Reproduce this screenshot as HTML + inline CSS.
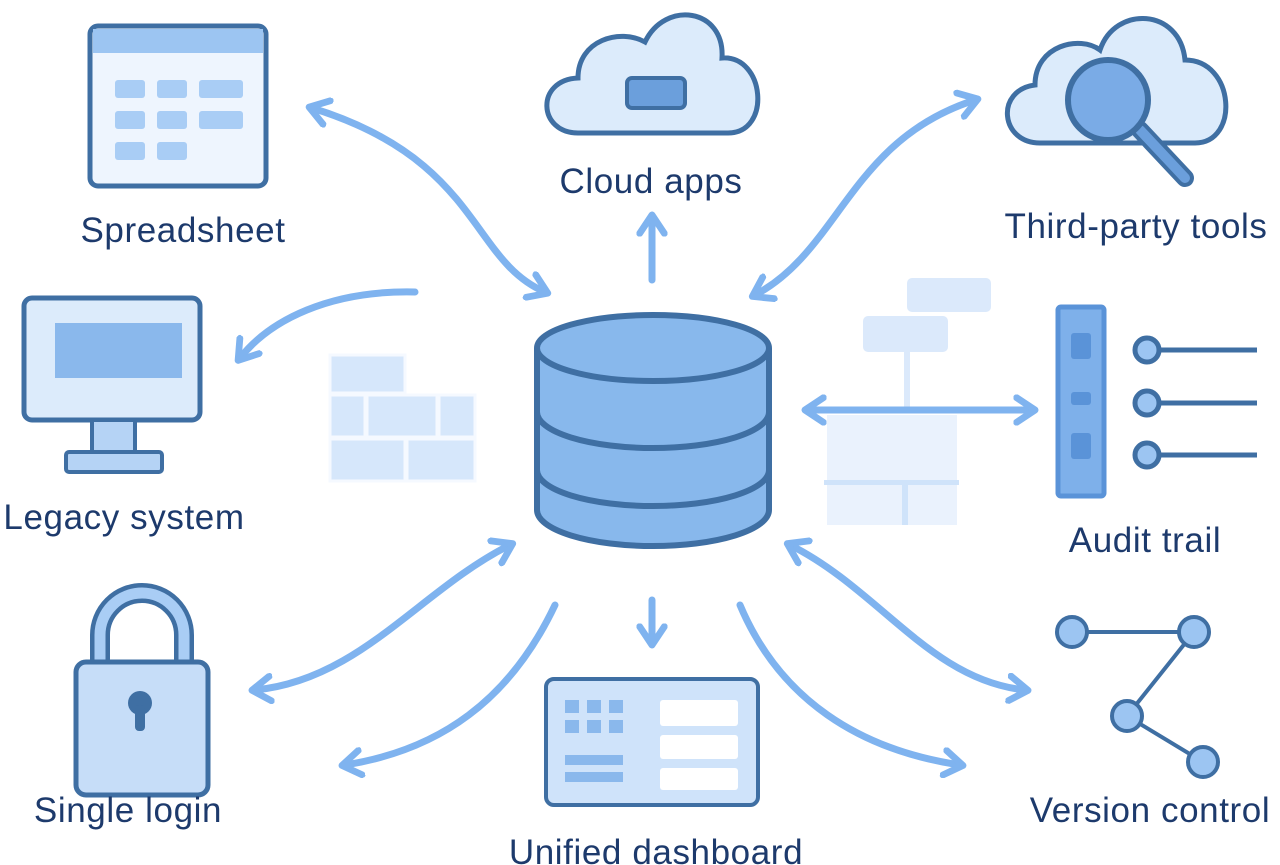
<!DOCTYPE html>
<html><head><meta charset="utf-8"><style>html,body{margin:0;padding:0;background:#fff}svg{display:block}text{font-family:"Liberation Sans",sans-serif;fill:#1d3a6c;font-size:35px;letter-spacing:0.6px;text-anchor:middle}</style></head><body>
<svg width="1280" height="865" viewBox="0 0 1280 865" xmlns="http://www.w3.org/2000/svg">
<defs>
<marker id="ah" viewBox="0 0 10 10" refX="6" refY="5" markerWidth="4.4" markerHeight="4.4" orient="auto-start-reverse"><path d="M1,1 L7,5 L1,9" fill="none" stroke="#7fb3ef" stroke-width="2.2" stroke-linecap="round" stroke-linejoin="round"/></marker>
</defs>
<!-- faint wall -->
<g fill="#d6e7fb" stroke="#f5f9ff" stroke-width="3">
<rect x="330" y="355" width="75" height="38"/><rect x="330" y="395" width="35" height="42"/><rect x="367" y="395" width="70" height="42"/><rect x="439" y="395" width="36" height="42"/><rect x="330" y="439" width="75" height="42"/><rect x="407" y="439" width="68" height="42"/>
</g>
<!-- faint org chart -->
<g fill="#dbe9fb">
<rect x="907" y="278" width="84" height="34" rx="5"/><rect x="863" y="316" width="85" height="36" rx="5"/>
<rect x="904" y="350" width="6" height="60"/>
<rect x="827" y="415" width="130" height="110" fill="#eaf2fd"/>
<rect x="824" y="480" width="135" height="5" fill="#cfe3fa"/><rect x="902" y="485" width="6" height="40" fill="#cfe3fa"/>
</g>
<!-- arrows -->
<g fill="none" stroke="#7fb3ef" stroke-width="7" stroke-linecap="round" marker-end="url(#ah)">
<path d="M545,292 C470,260 480,160 312,108" marker-start="url(#ah)"/>
<path d="M652,280 L652,218"/>
<path d="M755,295 C840,250 850,140 975,100" marker-start="url(#ah)"/>
<path d="M415,292 C330,290 270,320 240,358"/>
<path d="M808,410 L1032,410" marker-start="url(#ah)"/>
<path d="M510,545 C420,590 360,680 255,690" marker-start="url(#ah)"/>
<path d="M555,605 C510,700 440,750 345,765"/>
<path d="M652,600 L652,642"/>
<path d="M740,605 C780,700 860,750 960,765"/>
<path d="M790,545 C880,590 930,680 1025,690" marker-start="url(#ah)"/>
</g>
<!-- database -->
<g stroke="#3f6fa3" stroke-width="6" fill="#88b8ec">
<path d="M537,348 L537,510 A116,36 0 0 0 769,510 L769,348"/>
<ellipse cx="653" cy="348" rx="116" ry="33"/>
<path d="M537,412 A116,36 0 0 0 769,412" fill="none"/>
<path d="M537,470 A116,36 0 0 0 769,470" fill="none"/>
</g>
<!-- spreadsheet -->
<rect x="90" y="26" width="176" height="160" rx="8" fill="#eef5fe" stroke="#3f6fa3" stroke-width="5"/>
<rect x="93" y="29" width="170" height="24" fill="#9cc5f2"/>
<g fill="#a9cdf5"><rect x="115" y="80" width="30" height="18" rx="3"/><rect x="157" y="80" width="30" height="18" rx="3"/><rect x="199" y="80" width="44" height="18" rx="3"/><rect x="115" y="111" width="30" height="18" rx="3"/><rect x="157" y="111" width="30" height="18" rx="3"/><rect x="199" y="111" width="44" height="18" rx="3"/><rect x="115" y="142" width="30" height="18" rx="3"/><rect x="157" y="142" width="30" height="18" rx="3"/></g>
<!-- cloud apps -->
<path d="M578,133 C538,133 535,80 578,78 C578,40 620,28 645,42 C665,0 725,8 722,58 C765,55 772,133 728,133 Z" fill="#dcebfb" stroke="#3f6fa3" stroke-width="5"/>
<rect x="627" y="78" width="58" height="30" rx="5" fill="#6b9fdc" stroke="#3f6fa3" stroke-width="4"/>
<!-- third party -->
<path d="M1040,143 C1000,143 995,90 1035,85 C1035,45 1080,35 1100,50 C1115,5 1180,8 1185,60 C1235,60 1240,143 1195,143 Z" fill="#dcebfb" stroke="#3f6fa3" stroke-width="5"/>
<line x1="1140" y1="130" x2="1185" y2="178" stroke="#3f6fa3" stroke-width="18" stroke-linecap="round"/>
<line x1="1140" y1="130" x2="1185" y2="178" stroke="#6b9fdc" stroke-width="10" stroke-linecap="round"/>
<circle cx="1108" cy="100" r="40" fill="#7aabe6" stroke="#3f6fa3" stroke-width="6"/>
<!-- legacy -->
<rect x="24" y="298" width="176" height="122" rx="8" fill="#dcebfb" stroke="#3f6fa3" stroke-width="5"/>
<rect x="55" y="323" width="127" height="55" fill="#8ab8ec"/>
<rect x="92" y="420" width="43" height="34" fill="#b5d3f5" stroke="#3f6fa3" stroke-width="4"/>
<rect x="66" y="452" width="96" height="20" rx="3" fill="#b5d3f5" stroke="#3f6fa3" stroke-width="4"/>
<!-- lock -->
<path d="M100,665 L100,635 A42,42 0 0 1 184,635 L184,665" fill="none" stroke="#3f6fa3" stroke-width="20"/>
<path d="M100,665 L100,635 A42,42 0 0 1 184,635 L184,665" fill="none" stroke="#a9cdf5" stroke-width="11"/>
<rect x="76" y="662" width="132" height="133" rx="10" fill="#c6ddf8" stroke="#3f6fa3" stroke-width="5"/>
<circle cx="140" cy="703" r="12" fill="#3f6fa3"/><rect x="135" y="705" width="10" height="26" rx="4" fill="#3f6fa3"/>
<!-- dashboard -->
<rect x="546" y="679" width="212" height="126" rx="8" fill="#cfe3fa" stroke="#3f6fa3" stroke-width="4"/>
<g fill="#8ab8ec"><rect x="565" y="700" width="14" height="13"/><rect x="587" y="700" width="14" height="13"/><rect x="609" y="700" width="14" height="13"/><rect x="565" y="720" width="14" height="13"/><rect x="587" y="720" width="14" height="13"/><rect x="609" y="720" width="14" height="13"/><rect x="565" y="755" width="58" height="10"/><rect x="565" y="772" width="58" height="10"/></g>
<g fill="#fff"><rect x="660" y="700" width="78" height="26" rx="3"/><rect x="660" y="735" width="78" height="24" rx="3"/><rect x="660" y="768" width="78" height="22" rx="3"/></g>
<!-- audit -->
<rect x="1058" y="307" width="46" height="189" rx="3" fill="#7eb0ea" stroke="#5a93d8" stroke-width="5"/>
<g fill="#5a93d8"><rect x="1071" y="333" width="20" height="26" rx="3"/><rect x="1071" y="392" width="20" height="13" rx="3"/><rect x="1071" y="433" width="20" height="26" rx="3"/></g>
<g stroke="#3f6fa3" stroke-width="5" fill="#9cc5f2"><line x1="1158" y1="350" x2="1257" y2="350"/><line x1="1158" y1="403" x2="1257" y2="403"/><line x1="1158" y1="455" x2="1257" y2="455"/><circle cx="1147" cy="350" r="12"/><circle cx="1147" cy="403" r="12"/><circle cx="1147" cy="455" r="12"/></g>
<!-- version -->
<g stroke="#3f6fa3" stroke-width="4" fill="#9cc5f2"><path d="M1072,632 L1194,632 L1127,716 L1203,762" fill="none"/><circle cx="1072" cy="632" r="15"/><circle cx="1194" cy="632" r="15"/><circle cx="1127" cy="716" r="15"/><circle cx="1203" cy="762" r="15"/></g>
<!-- labels -->
<text x="183" y="242">Spreadsheet</text>
<text x="651" y="193">Cloud apps</text>
<text x="1136" y="238">Third-party tools</text>
<text x="124" y="529">Legacy system</text>
<text x="1145" y="552">Audit trail</text>
<text x="128" y="822">Single login</text>
<text x="656" y="864">Unified dashboard</text>
<text x="1150" y="822">Version control</text>
</svg>
</body></html>
